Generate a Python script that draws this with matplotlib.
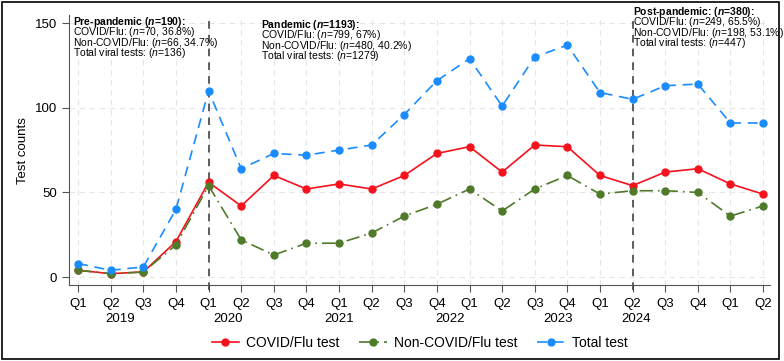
import matplotlib
matplotlib.use("Agg")
import matplotlib.pyplot as plt
from matplotlib.patches import Rectangle

plt.rcParams['font.family'] = ['Liberation Sans', 'DejaVu Sans']
plt.rcParams['mathtext.fontset'] = 'custom'
plt.rcParams['mathtext.rm'] = 'Liberation Sans'
plt.rcParams['mathtext.it'] = 'Liberation Sans:italic'
plt.rcParams['mathtext.bf'] = 'Liberation Sans:bold'
plt.rcParams['mathtext.bfit'] = 'Liberation Sans:italic:bold'

quarters = ["Q1", "Q2", "Q3", "Q4"] * 5 + ["Q1", "Q2"]
years = ["2019", "2020", "2021", "2022", "2023", "2024"]
year_pos = [1.3, 4.6, 8.0, 11.4, 14.7, 17.1]

covid = [4, 2, 3, 21, 56, 42, 60, 52, 55, 52, 60, 73, 77, 62, 78, 77, 60, 54, 62, 64, 55, 49]
noncovid = [4, 2, 3, 19, 54, 22, 13, 20, 20, 26, 36, 43, 52, 39, 52, 60, 49, 51, 51, 50, 36, 42]
total = [8, 4, 6, 40, 110, 64, 73, 72, 75, 78, 96, 116, 129, 101, 130, 137, 109, 105, 113, 114, 91, 91]

period_lines = [4, 17]

# period summaries: title, body lines
periods = [
    ("Pre-pandemic ($\\mathbfit{n}$=190):",
     ["COVID/Flu: ($\\mathit{n}$=70, 36.8%)",
      "Non-COVID/Flu: ($\\mathit{n}$=66, 34.7%)",
      "Total viral tests: ($\\mathit{n}$=136)"]),
    ("Pandemic ($\\mathbfit{n}$=1193):",
     ["COVID/Flu: ($\\mathit{n}$=799, 67%)",
      "Non-COVID/Flu: ($\\mathit{n}$=480, 40.2%)",
      "Total viral tests: ($\\mathit{n}$=1279)"]),
    ("Post-pandemic: ($\\mathbfit{n}$=380):",
     ["COVID/Flu: ($\\mathit{n}$=249, 65.5%)",
      "Non-COVID/Flu: ($\\mathit{n}$=198, 53.1%)",
      "Total viral tests: ($\\mathit{n}$=447)"]),
]
period_xy = [(73, 22), (261, 25), (633, 12)]  # pixel position of first line

x = list(range(len(quarters)))

W, H = 784, 361
fig = plt.figure(figsize=(W / 100, H / 100), dpi=100)
ax = fig.add_axes([0.088, 0.2105, 0.894, 0.7475])

red = '#f5121c'
green = '#4e7a2a'
blue = '#1a8cff'

ax.plot(x, covid, color=red, lw=1.2, marker='o', ms=5, label='COVID/Flu test', zorder=3)
ax.plot(x, noncovid, color=green, lw=1.2, ls=(0, (8, 3, 1, 3)), marker='o', ms=5,
        label='Non-COVID/Flu test', zorder=3)
ax.plot(x, total, color=blue, lw=1.2, ls=(0, (6, 4)), marker='o', ms=5,
        label='Total test', zorder=3)

for p in period_lines:
    ax.axvline(p, color='#333333', lw=1.1, ls=(0, (5, 4)), ymin=-0.02, ymax=1, clip_on=False, zorder=2)

ax.set_xlim(-0.28, 21.21)
ax.set_ylim(-4.7, 154.7)
ax.set_xticks(x)
ax.set_xticklabels(quarters, fontsize=9.5)
ax.set_yticks([0, 50, 100, 150])
ax.tick_params(axis='y', labelsize=9.5, color='#555555', length=5)
ax.tick_params(axis='x', color='#555555', length=5, pad=4.5)
ax.grid(True, color='#e6e6e6', ls=(0, (5, 4)), lw=0.8)
ax.set_axisbelow(True)
for s in ['top', 'right']:
    ax.spines[s].set_visible(False)
for s in ['left', 'bottom']:
    ax.spines[s].set_color('#555555')
ax.set_ylabel('Test counts', fontsize=9.5)

for yr, pos in zip(years, year_pos):
    ax.text(pos, -0.125, yr, transform=ax.get_xaxis_transform(), ha='center', va='center', fontsize=9.5)

fs = 7.5
for (title, body), (px, py) in zip(periods, period_xy):
    fig.text(px / W, 1 - py / H, title, fontsize=fs, fontweight='bold', va='center')
    for i, line in enumerate(body):
        fig.text(px / W, 1 - (py + 10.3 * (i + 1)) / H, line, fontsize=fs, va='center')

fig.legend(loc='center', bbox_to_anchor=(0.535, 0.05), ncol=3, frameon=False, fontsize=10,
           handlelength=2.0, handletextpad=0.5, columnspacing=1.4)

fig.patches.append(Rectangle((0.003, 0.006), 0.991, 0.988, transform=fig.transFigure,
                             fill=False, edgecolor='black', lw=1.2))

fig.savefig("out.png", dpi=100)
